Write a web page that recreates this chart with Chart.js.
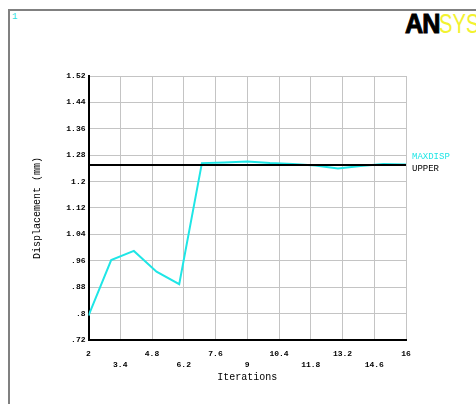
<!DOCTYPE html>
<html>
<head>
<meta charset="utf-8">
<script src="https://cdn.jsdelivr.net/npm/chart.js@4.4.0/dist/chart.umd.min.js"></script>
<style>
    body { margin: 0; background: #fff; overflow: hidden; }
    #wrap { position: relative; width: 476px; height: 404px; overflow: hidden; }
    #frame { position: absolute; left: 8px; top: 9px; width: 600px; height: 600px;
             border-top: 2px solid #808080; border-left: 2px solid #808080; }
    #num { position: absolute; left: 12px; top: 12px; font: 9px "Liberation Mono"; color: #2ee0e0; }
    #logo { position: absolute; left: 405px; top: 10px; font: 28px/28px "Liberation Sans"; white-space: nowrap; }
    #logo b { color: #000; font-weight: bold; letter-spacing: -1px; -webkit-text-stroke: 1px #000; display: inline-block; transform: scaleX(0.9); transform-origin: left; margin-right: -4px; }
    #logo span { color: #f2f230; display: inline-block; transform: scaleX(0.72); transform-origin: left; }
    canvas { position: absolute; left: 0; top: 0; }
</style>
</head>
<body>
<div id="wrap">
    <div id="frame"></div>
    <div id="num">1</div>
    <div id="logo"><b>AN</b><span>SYS</span></div>
    <canvas id="dispChart" width="476" height="404"></canvas>
</div>
<script>
// datos
const iterations = [2, 3, 4, 5, 6, 7, 8, 9, 10, 11, 12, 13, 14, 15, 16];
const maxdisp = [0.794, 0.962, 0.99, 0.927, 0.889, 1.256, 1.258, 1.261, 1.256, 1.253, 1.249, 1.240, 1.247, 1.253, 1.252];
const upperValue = 1.25;
const xTicks = [2, 3.4, 4.8, 6.2, 7.6, 9, 10.4, 11.8, 13.2, 14.6, 16];
const yTicks = [0.72, 0.8, 0.88, 0.96, 1.04, 1.12, 1.2, 1.28, 1.36, 1.44, 1.52];

const CYAN = '#1fe6e6';

function fmt(v) {
    return String(Number(v.toFixed(2))).replace(/^0\./, '.');
}

// etiquetas a la derecha del grafico
const sideLabels = {
    id: 'sideLabels',
    afterDraw(chart) {
        const ctx = chart.ctx;
        const x = chart.chartArea.right + 6;
        const y = chart.scales.y.getPixelForValue(upperValue);
        ctx.save();
        ctx.font = '9px "Liberation Mono"';
        ctx.textBaseline = 'middle';
        ctx.fillStyle = CYAN;
        ctx.fillText('MAXDISP', x, y - 8);
        ctx.fillStyle = '#000';
        ctx.fillText('UPPER', x, y + 4);
        ctx.restore();
    }
};

Chart.defaults.font.family = '"Liberation Mono", monospace';
Chart.defaults.color = '#000';

new Chart(document.getElementById('dispChart'), {
    type: 'line',
    data: {
        datasets: [{
            label: 'UPPER',
            data: [{ x: iterations[0], y: upperValue }, { x: iterations[iterations.length - 1], y: upperValue }],
            borderColor: '#000',
            borderWidth: 2,
            pointRadius: 0,
            order: 0
        }, {
            label: 'MAXDISP',
            data: iterations.map((it, i) => ({ x: it, y: maxdisp[i] })),
            borderColor: CYAN,
            borderWidth: 2,
            pointRadius: 0,
            tension: 0,
            order: 1
        }]
    },
    options: {
        responsive: false,
        animation: false,
        layout: {
            padding: { left: 0, top: 76, right: 70, bottom: 0 }
        },
        plugins: {
            legend: { display: false },
            tooltip: { enabled: false }
        },
        scales: {
            x: {
                type: 'linear',
                min: 2,
                max: 16,
                afterBuildTicks: (s) => { s.ticks = xTicks.map(v => ({ value: v })); },
                afterFit: (s) => { s.height = 64; },
                grid: { color: '#c4c4c4', lineWidth: 1, drawTicks: false },
                border: { color: '#000', width: 2 },
                ticks: {
                    padding: 8,
                    maxRotation: 0,
                    autoSkip: false,
                    font: { size: 8, weight: 'bold', lineHeight: 1.375 },
                    callback: (v, i) => i % 2 === 0 ? [fmt(v)] : ['', fmt(v)]
                },
                title: {
                    display: true,
                    text: 'Iterations',
                    font: { size: 10, lineHeight: 1.2 },
                    padding: { top: 0, bottom: 21 }
                }
            },
            y: {
                min: 0.72,
                max: 1.52,
                afterBuildTicks: (s) => { s.ticks = yTicks.map(v => ({ value: v })); },
                afterFit: (s) => { s.width = 88.5; },
                grid: { color: '#c4c4c4', lineWidth: 1, drawTicks: false },
                border: { color: '#000', width: 2 },
                ticks: {
                    padding: 3,
                    autoSkip: false,
                    font: { size: 8, weight: 'bold' },
                    callback: (v) => fmt(v)
                },
                title: {
                    display: true,
                    text: 'Displacement (mm)',
                    font: { size: 10, lineHeight: 1.2 },
                    padding: { top: 31, bottom: 0 }
                }
            }
        }
    },
    plugins: [sideLabels]
});
</script>
</body>
</html>
